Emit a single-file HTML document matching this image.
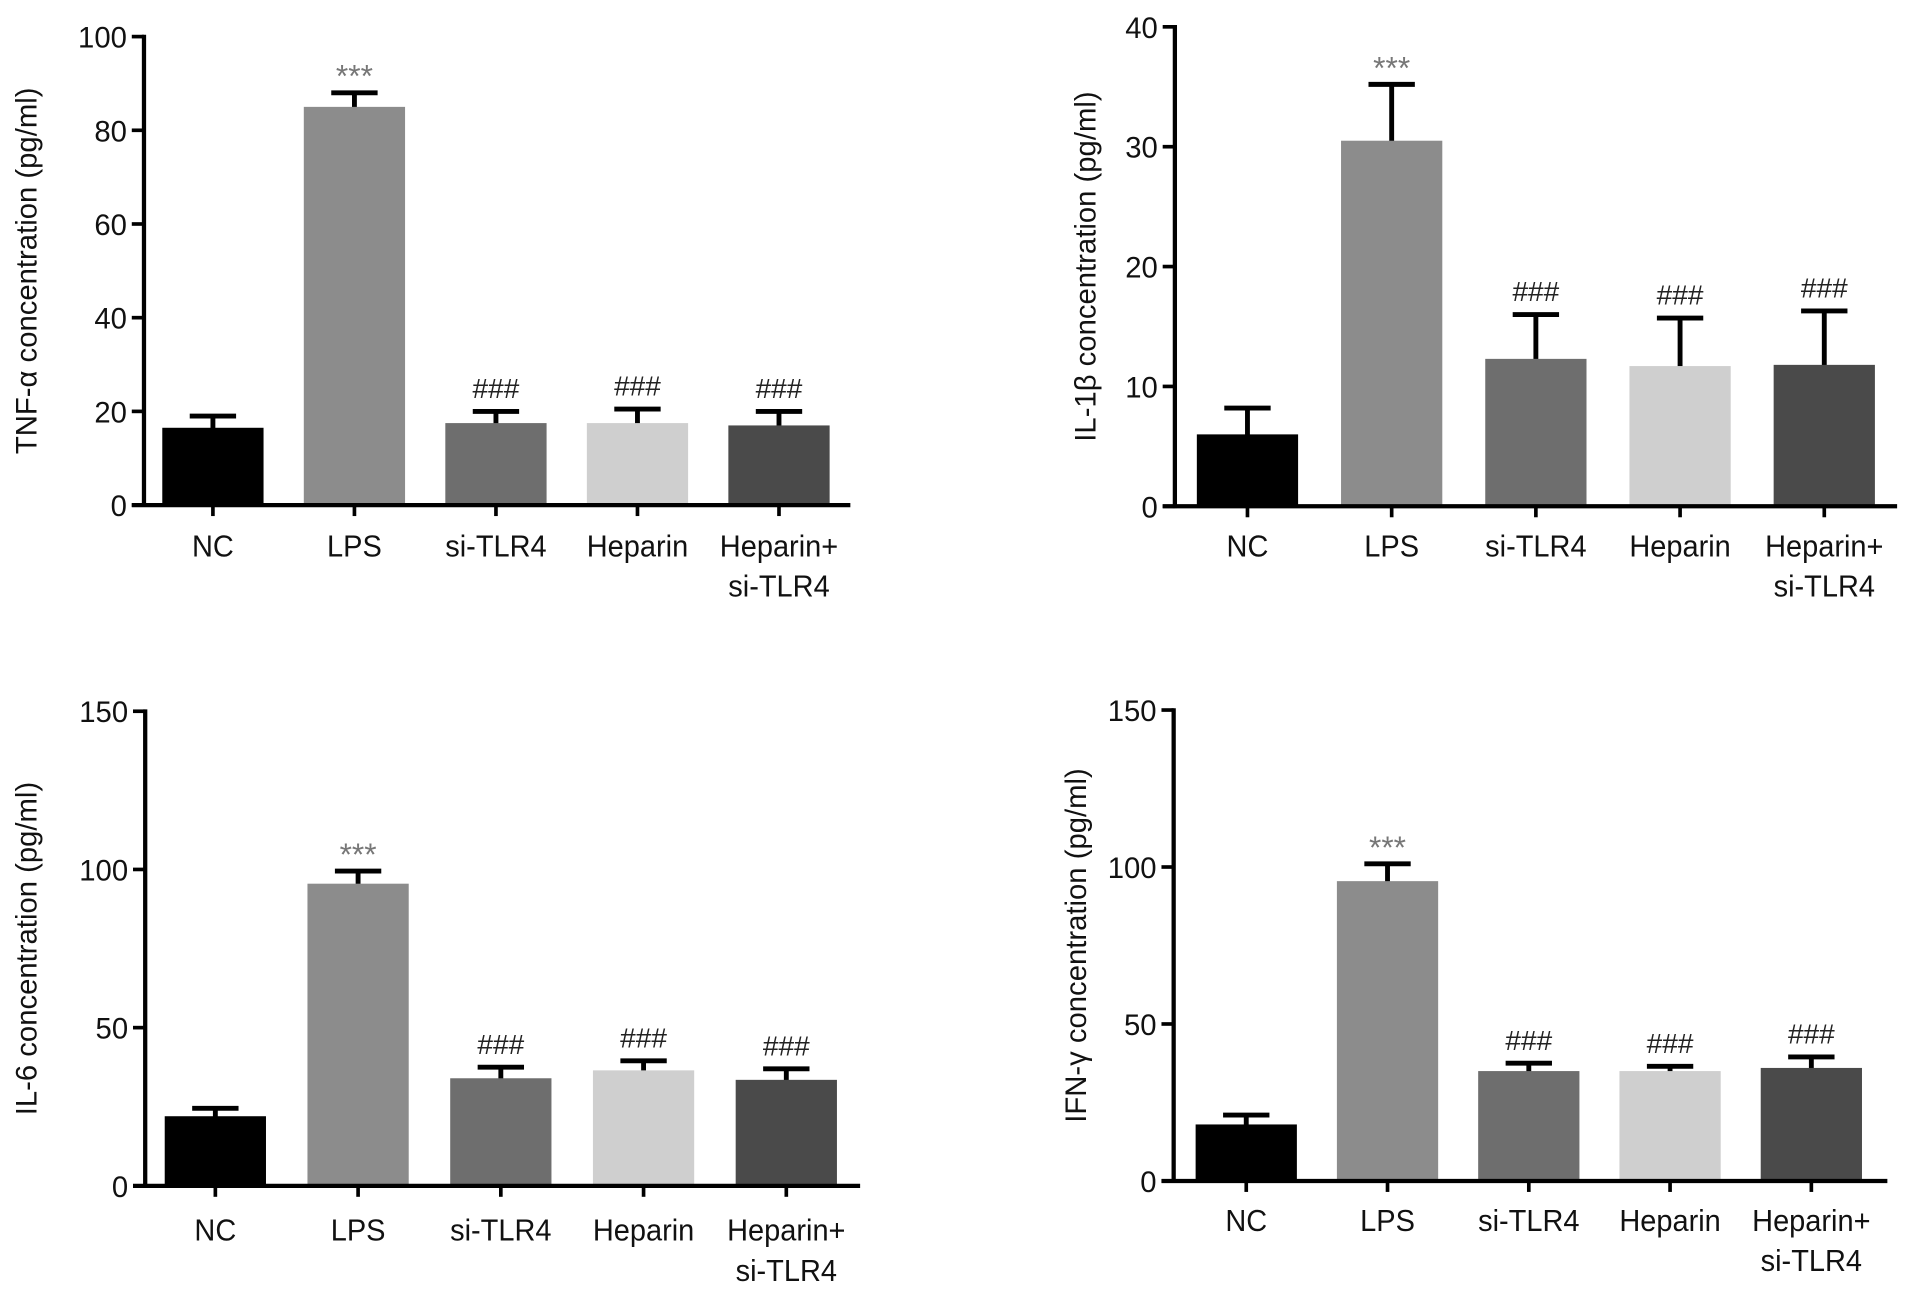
<!DOCTYPE html>
<html><head><meta charset="utf-8"><style>
html,body{margin:0;padding:0;background:#fff;}
svg{display:block;font-family:"Liberation Sans",sans-serif;}
</style></head><body>
<svg id="fig" width="1913" height="1296" viewBox="0 0 1568 1062.3" xmlns="http://www.w3.org/2000/svg"></svg>
<script>
const categories = ["NC","LPS","si-TLR4","Heparin","Heparin+|si-TLR4"];
const tnfValues = [16.5, 85, 17.5, 17.5, 17];
const tnfErrors = [19, 88, 20, 20.5, 20];
const tnfTicks = [0,20,40,60,80,100];
const il1Values = [6, 30.5, 12.3, 11.7, 11.8];
const il1Errors = [8.2, 35.2, 16, 15.7, 16.3];
const il1Ticks = [0,10,20,30,40];
const il6Values = [22, 95.5, 34, 36.5, 33.5];
const il6Errors = [24.5, 99.5, 37.5, 39.5, 37];
const il6Ticks = [0,50,100,150];
const ifnValues = [18, 95.5, 35, 35, 36];
const ifnErrors = [21, 101, 37.5, 36.5, 39.5];
const ifnTicks = [0,50,100,150];
const sigMarks = ["", "***", "###", "###", "###"];

const colors = ["#000000","#8c8c8c","#6e6e6e","#cfcfcf","#4a4a4a"];
const NS = "http://www.w3.org/2000/svg";
const svg = document.getElementById("fig");
function mk(tag, attrs, parent){
  const e = document.createElementNS(NS, tag);
  for (const k in attrs) e.setAttribute(k, attrs[k]);
  (parent||svg).appendChild(e);
  return e;
}
const panels = [
  {name:"tnf", title:"TNF-\u03b1 concentration (pg/ml)", vals:tnfValues, errs:tnfErrors, ticks:tnfTicks,
   ax:118, x1:697, yTop:30, y0:414, first:174.5, step:116, titleX:30, labelY:456},
  {name:"il1b", title:"IL-1\u03b2 concentration (pg/ml)", vals:il1Values, errs:il1Errors, ticks:il1Ticks,
   ax:963, x1:1555, yTop:22, y0:415, first:1022.5, step:118.2, titleX:898, labelY:456},
  {name:"il6", title:"IL-6 concentration (pg/ml)", vals:il6Values, errs:il6Errors, ticks:il6Ticks,
   ax:119, x1:705, yTop:583, y0:972, first:176.5, step:117, titleX:30, labelY:1017},
  {name:"ifng", title:"IFN-\u03b3 concentration (pg/ml)", vals:ifnValues, errs:ifnErrors, ticks:ifnTicks,
   ax:962, x1:1547, yTop:582, y0:968, first:1021.5, step:115.8, titleX:890, labelY:1009}
];
panels.forEach(p => {
  const g = mk("g", {});
  
  
  const vmax = p.ticks[p.ticks.length-1];
  const y = v => p.y0 - (v / vmax) * (p.y0 - p.yTop);
  const xc = i => p.first + i * p.step;
  const bw = 83;
  p.vals.forEach((v,i) => {
    const ey = y(p.errs[i]);
    const el = mk("line", {x1:xc(i), x2:xc(i), y1:y(v)+6, y2:ey, stroke:"#000", "stroke-width":4}, g);
    
    
    const cap = mk("line", {x1:xc(i)-19, x2:xc(i)+19, y1:ey, y2:ey, stroke:"#000", "stroke-width":4}, g);
    
    
    const r = mk("rect", {x:xc(i)-bw/2, y:y(v), width:bw, height:p.y0-y(v), fill:colors[i]}, g);
    
    
    if (sigMarks[i]) {
      const star = sigMarks[i] === "***";
      const t = mk("text", {x:xc(i), y:ey - (star? 5 : 11), "text-anchor":"middle", "font-size": star? 26 : 23, fill: star? "#777":"#222"}, g);
      t.textContent = sigMarks[i];
      
      
    }
    const parts = categories[i].split('|');
    parts.forEach((s,k) => {
      const t = mk("text", {x:xc(i), y:p.labelY + k*33, "text-anchor":"middle", "font-size":25, fill:"#111",
        transform:`translate(${xc(i)} 0) scale(0.95 1) translate(${-xc(i)} 0)`}, g);
      t.textContent = s;
      
      
    });
    const tk = mk("line", {x1:xc(i), x2:xc(i), y1:p.y0, y2:p.y0+9, stroke:"#000", "stroke-width":3}, g);
    
    
  });
  const ya = mk("line", {x1:p.ax, x2:p.ax, y1:p.yTop-1.5, y2:p.y0+1.5, stroke:"#000", "stroke-width":3.5}, g);
  
  
  const xa = mk("line", {x1:p.ax-10, x2:p.x1, y1:p.y0, y2:p.y0, stroke:"#000", "stroke-width":3.5}, g);
  
  
  p.ticks.forEach(tv => {
    const l = mk("line", {x1:p.ax-10, x2:p.ax, y1:y(tv), y2:y(tv), stroke:"#000", "stroke-width":3}, g);
    
    
    const t = mk("text", {x:p.ax-14, y:y(tv)+9, "text-anchor":"end", "font-size":24, fill:"#111"}, g);
    t.textContent = tv;
    
    
  });
  const cy = (p.yTop+p.y0)/2;
  const tt = mk("text", {x:p.titleX, y:cy, "text-anchor":"middle", "font-size":24, fill:"#111",
    transform:`rotate(-90 ${p.titleX} ${cy})`}, g);
  tt.textContent = p.title;
  
  
});
</script>
</body></html>
